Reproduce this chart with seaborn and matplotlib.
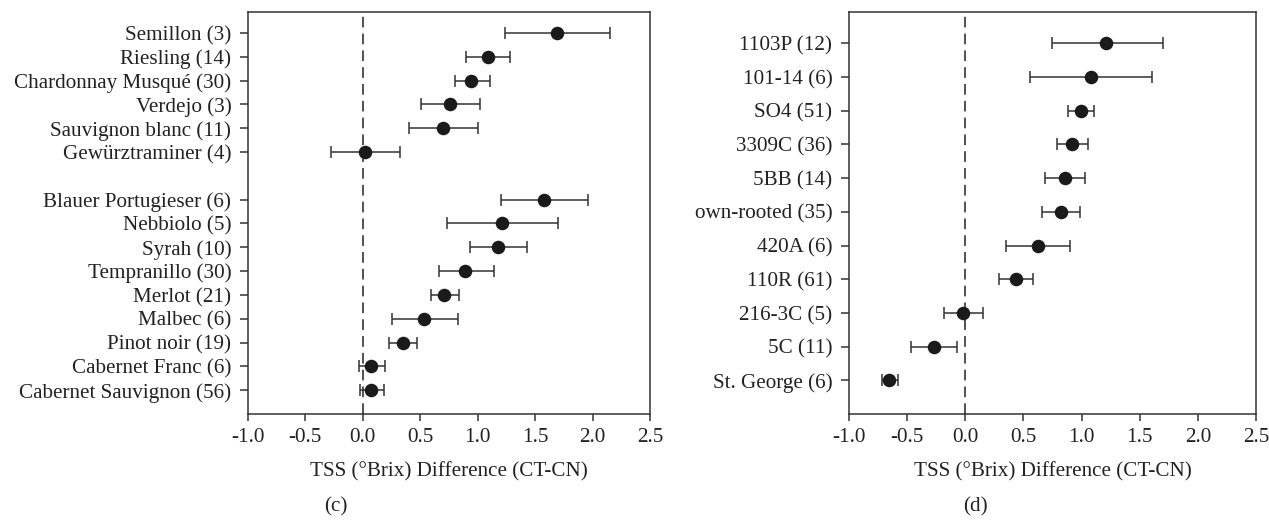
import numpy as np
import pandas as pd
import seaborn as sns
import matplotlib.pyplot as plt

# Panel (c): cultivars, white then red (gap between the groups)
WHITE = ["Semillon (3)", "Riesling (14)", "Chardonnay Musqué (30)", "Verdejo (3)",
         "Sauvignon blanc (11)", "Gewürztraminer (4)"]
WHITE_MEAN = [1.69, 1.09, 0.945, 0.76, 0.70, 0.016]
WHITE_LO = [1.24, 0.90, 0.80, 0.51, 0.40, -0.28]
WHITE_HI = [2.15, 1.28, 1.105, 1.02, 1.00, 0.32]

RED = ["Blauer Portugieser (6)", "Nebbiolo (5)", "Syrah (10)", "Tempranillo (30)",
       "Merlot (21)", "Malbec (6)", "Pinot noir (19)", "Cabernet Franc (6)",
       "Cabernet Sauvignon (56)"]
RED_MEAN = [1.576, 1.21, 1.18, 0.89, 0.71, 0.53, 0.35, 0.074, 0.074]
RED_LO = [1.20, 0.735, 0.934, 0.66, 0.59, 0.25, 0.23, -0.035, -0.027]
RED_HI = [1.96, 1.70, 1.43, 1.14, 0.84, 0.83, 0.475, 0.19, 0.18]

# Panel (d): rootstocks
ROOT = ["1103P (12)", "101-14 (6)", "SO4 (51)", "3309C (36)", "5BB (14)",
        "own-rooted (35)", "420A (6)", "110R (61)", "216-3C (5)", "5C (11)",
        "St. George (6)"]
ROOT_MEAN = [1.214, 1.08, 0.996, 0.92, 0.854, 0.822, 0.626, 0.433, -0.022, -0.272, -0.654]
ROOT_LO = [0.743, 0.56, 0.88, 0.79, 0.69, 0.664, 0.348, 0.294, -0.183, -0.465, -0.72]
ROOT_HI = [1.70, 1.61, 1.11, 1.056, 1.034, 0.986, 0.904, 0.585, 0.149, -0.07, -0.575]

XLABEL = "TSS (°Brix) Difference (CT-CN)"

sns.set_style("ticks")
plt.rcParams["font.family"] = ["Liberation Serif", "DejaVu Serif"]
plt.rcParams["font.size"] = 15.2

cultivars = pd.DataFrame({
    "label": WHITE + RED,
    "mean": WHITE_MEAN + RED_MEAN,
    "lo": WHITE_LO + RED_LO,
    "hi": WHITE_HI + RED_HI,
    "pos": list(range(len(WHITE))) + list(range(len(WHITE) + 1, len(WHITE) + 1 + len(RED))),
})
rootstocks = pd.DataFrame({
    "label": ROOT, "mean": ROOT_MEAN, "lo": ROOT_LO, "hi": ROOT_HI,
    "pos": list(range(len(ROOT))),
})

fig = plt.figure(figsize=(12.69, 5.21), dpi=100)
ax_c = fig.add_axes([0.1954, 0.2054, 0.3168, 0.7716])
ax_d = fig.add_axes([0.669, 0.2054, 0.3207, 0.7716])

spine_col = "#333333"


def forest(ax, df, ylim):
    ax.axvline(0, color="#222222", lw=1.1, ls=(0, (7, 4)), zorder=1)
    ax.errorbar(df["mean"], df["pos"],
                xerr=[df["mean"] - df["lo"], df["hi"] - df["mean"]],
                fmt="none", ecolor="#333333", elinewidth=1.1, capsize=4,
                capthick=1.1, zorder=2)
    sns.scatterplot(data=df, x="mean", y="pos", ax=ax, color="#1a1a1a",
                    s=95, edgecolor="#1a1a1a", linewidth=0, zorder=3, legend=False)
    ax.set_yticks(df["pos"])
    ax.set_yticklabels(df["label"])
    ax.set_ylim(*ylim)
    ax.set_xlim(-1.0, 2.5)
    ax.set_xticks(np.arange(-1.0, 2.51, 0.5))
    ax.set_xticklabels([f"{v:.1f}" for v in np.arange(-1.0, 2.51, 0.5)])
    ax.set_xlabel(XLABEL, labelpad=11)
    ax.set_ylabel("")
    for s in ax.spines.values():
        s.set_visible(True)
        s.set_color(spine_col)
        s.set_linewidth(1.1)
    ax.tick_params(axis="both", direction="out", length=5, width=1.1,
                   color=spine_col, labelcolor="#222222")
    ax.tick_params(axis="y", length=6, pad=6)
    ax.tick_params(axis="x", pad=5)
    ax.xaxis.label.set_color("#222222")


forest(ax_c, cultivars, (16.0, -0.88))
forest(ax_d, rootstocks, (11.0, -0.93))

fig.text(336 / 1269, 1 - 507 / 521, "(c)", ha="center", va="center", color="#222222")
fig.text(975 / 1269, 1 - 507 / 521, "(d)", ha="center", va="center", color="#222222")

fig.savefig("out.png", dpi=100)
